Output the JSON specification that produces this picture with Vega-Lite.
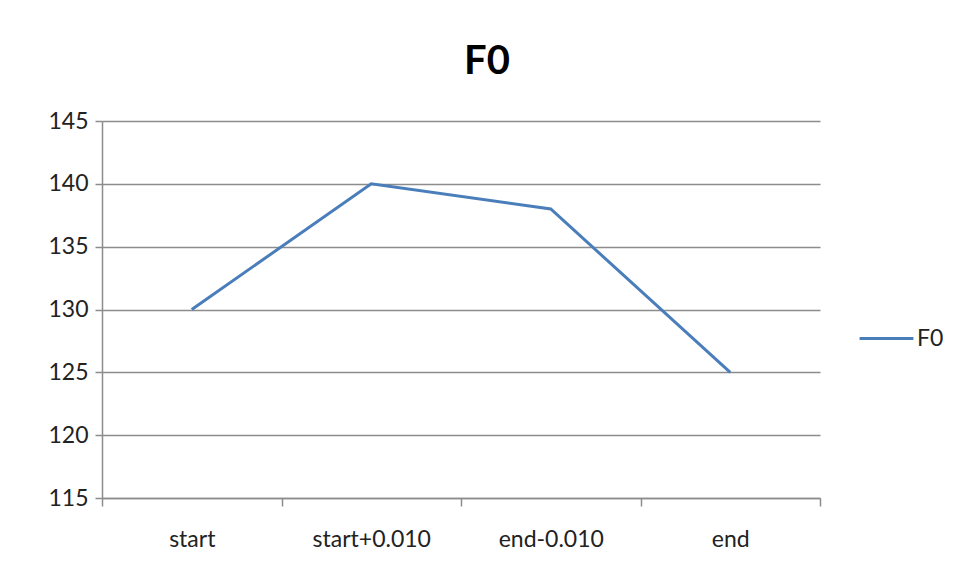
{
  "$schema": "https://vega.github.io/schema/vega-lite/v6.json",
  "width": 718,
  "height": 377,
  "autosize": {"type": "none"},
  "padding": {"left": 102, "top": 121, "right": 137, "bottom": 80},
  "background": "white",
  "title": {
    "text": "F0",
    "fontSize": 40,
    "font": "Lato",
    "fontWeight": "bold",
    "color": "#000000",
    "offset": 28,
    "dx": 26,
    "anchor": "middle"
  },
  "data": {
    "values": [
      {"point": "start", "f0": 130, "series": "F0"},
      {"point": "start+0.010", "f0": 140, "series": "F0"},
      {"point": "end-0.010", "f0": 138, "series": "F0"},
      {"point": "end", "f0": 125, "series": "F0"}
    ]
  },
  "mark": {"type": "line", "strokeWidth": 3},
  "encoding": {
    "x": {
      "field": "point",
      "type": "nominal",
      "sort": null,
      "bandPosition": 0.5,
      "scale": {"type": "band", "paddingInner": 0, "paddingOuter": 0},
      "axis": {
        "title": null,
        "labelAngle": 0,
        "tickBand": "extent",
        "grid": false,
        "tickSize": 8,
        "labelPadding": 22,
        "labelFontSize": 23,
        "labelFont": "Lato",
        "labelColor": "#222222",
        "domainColor": "#8c8c8c",
        "tickColor": "#8c8c8c",
        "domainWidth": 1.5,
        "tickWidth": 1.5
      }
    },
    "y": {
      "field": "f0",
      "type": "quantitative",
      "scale": {"domain": [115, 145], "zero": false, "nice": false},
      "axis": {
        "title": null,
        "values": [115, 120, 125, 130, 135, 140, 145],
        "grid": true,
        "gridColor": "#8c8c8c",
        "gridWidth": 1.5,
        "tickSize": 7,
        "labelPadding": 7,
        "labelFontSize": 23,
        "labelFont": "Lato",
        "labelColor": "#222222",
        "domainColor": "#8c8c8c",
        "tickColor": "#8c8c8c",
        "domainWidth": 1.5,
        "tickWidth": 1.5
      }
    },
    "color": {
      "field": "series",
      "type": "nominal",
      "scale": {"range": ["#4a7ebb"]},
      "legend": {
        "title": null,
        "orient": "none",
        "legendX": 756,
        "legendY": 189,
        "symbolType": "stroke",
        "symbolSize": 2900,
        "symbolStrokeWidth": 3,
        "labelFontSize": 23,
        "labelFont": "Lato",
        "labelColor": "#222222",
        "labelOffset": 2
      }
    }
  },
  "config": {
    "view": {"stroke": null}
  }
}
